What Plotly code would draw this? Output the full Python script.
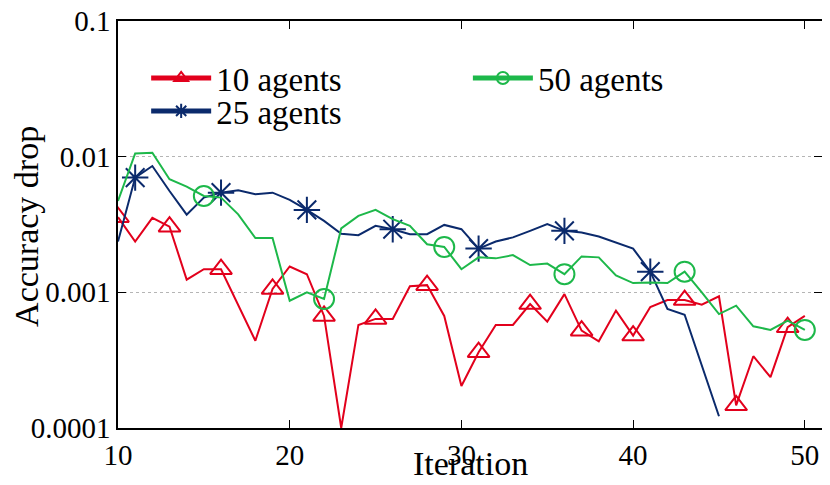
import plotly.graph_objects as go

# iterations 10..50
iters = list(range(10, 51))

acc_10 = [0.00358, 0.00237, 0.00354, 0.00305, 0.00124, 0.00148, 0.00148, 0.00081,
          0.00044, 0.00106, 0.00155, 0.00136, 0.00067, 0.0001, 0.000575, 0.000637,
          0.000637, 0.00111, 0.00113, 0.00067, 0.000204, 0.000362, 0.000575, 0.000575,
          0.00082, 0.000608, 0.00097, 0.000522, 0.000436, 0.000733, 0.00048, 0.00078,
          0.000877, 0.000877, 0.00081, 0.000935, 0.000147, 0.000338, 0.000237, 0.000553,
          0.00067]

iters_25 = list(range(10, 46))
acc_25 = [0.00237, 0.00701, 0.00853, 0.00558, 0.00374, 0.00499, 0.00543, 0.00565,
          0.00528, 0.00543, 0.0048, 0.00405, 0.00336, 0.0027, 0.00264, 0.00309,
          0.00292, 0.00268, 0.00268, 0.00314, 0.00292, 0.0021, 0.00237, 0.00254,
          0.00284, 0.00318, 0.00284, 0.00276, 0.00258, 0.00233, 0.0021, 0.00142,
          0.000754, 0.000684, 0.000288, 0.000122]

acc_50 = [0.00472, 0.01057, 0.0107, 0.00682, 0.00602, 0.00513, 0.00499, 0.00376,
          0.00251, 0.00251, 0.000867, 0.001, 0.000893, 0.00296, 0.00366, 0.00405,
          0.00346, 0.00309, 0.00226, 0.00216, 0.00148, 0.00181, 0.00178, 0.00188,
          0.00159, 0.00163, 0.00136, 0.00184, 0.00181, 0.00133, 0.00117, 0.00118,
          0.00117, 0.00142, 0.001, 0.000692, 0.000798, 0.000562, 0.000528, 0.000618,
          0.000528]

y_ticks = [0.0001, 0.001, 0.01, 0.1]
y_labels = ["0.0001", "0.001", "0.01", "0.1"]
x_ticks = [10, 20, 30, 40, 50]

RED, NAVY, GREEN = "#e2001c", "#0b2a6c", "#1db84a"
FONT = '"Liberation Serif", "Times New Roman", serif'


def series(x, y, name, color, symbol, first, every, legend, size=19):
    # line through every point, marker only every n-th point from `first` (gnuplot pi)
    sizes = [size if (xi >= first and (xi - first) % every == 0) else 0 for xi in x]
    return go.Scatter(
        x=x, y=y, name=name, mode="lines+markers", legend=legend,
        line=dict(color=color, width=2),
        marker=dict(symbol=symbol, size=sizes, color=color, opacity=1,
                    line=dict(color=color, width=2)),
    )


fig = go.Figure()
fig.add_trace(series(iters, acc_10, "10 agents", RED, "triangle-up-open", 10, 3, "legend"))
fig.add_trace(series(iters_25, acc_25, "25 agents", NAVY, "asterisk-open", 11, 5, "legend3", 22))
fig.add_trace(series(iters, acc_50, "50 agents", GREEN, "circle-open", 15, 7, "legend2", 20))

axis_common = dict(
    showline=True, linecolor="black", linewidth=1.5, mirror="ticks",
    ticks="inside", ticklen=8, tickcolor="black", tickwidth=1,
    tickfont=dict(size=29, color="black", family=FONT),
    zeroline=False, automargin=False, ticklabeloverflow="allow",
)

leg = dict(xanchor="left", yanchor="middle", bgcolor="rgba(0,0,0,0)",
           font=dict(size=33, family=FONT), itemsizing="constant", itemwidth=60)

title_font = dict(size=34, family=FONT, color="black")

# page body keeps an 8px margin, so the figure is 8px smaller than the window
fig.update_layout(
    width=822, height=477,
    margin=dict(l=110, r=8, t=13, b=57, autoexpand=False),
    paper_bgcolor="white", plot_bgcolor="white",
    font=dict(family=FONT, color="black", size=33),
    showlegend=True,
    xaxis=dict(range=[10, 51], tickvals=x_ticks, showgrid=False, **axis_common),
    yaxis=dict(type="log", range=[-4, -1], tickvals=y_ticks, ticktext=y_labels,
               showgrid=True, gridcolor="#b5b5b5", griddash="dot", gridwidth=1,
               **axis_common),
    legend=dict(x=0.04, y=0.86, **leg),
    legend3=dict(x=0.04, y=0.779, **leg),
    legend2=dict(x=0.497, y=0.86, **leg),
    annotations=[
        dict(text="Iteration", xref="paper", yref="paper", x=0.5, y=-0.086,
             xanchor="center", yanchor="middle", showarrow=False, font=title_font),
        dict(text="Accuracy drop", xref="paper", yref="paper", x=-0.131, y=0.496,
             xanchor="center", yanchor="middle", textangle=-90, showarrow=False,
             font=title_font),
    ],
)

fig.write_html("out.html")
